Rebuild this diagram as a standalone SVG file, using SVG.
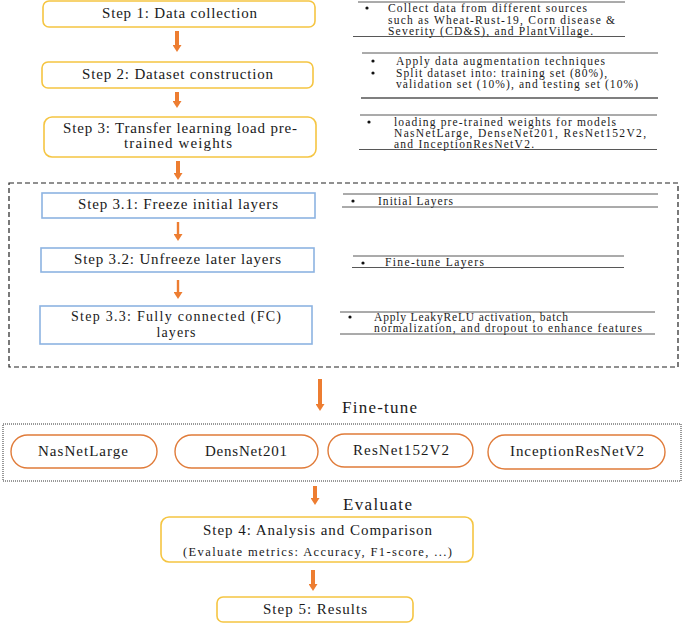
<svg xmlns="http://www.w3.org/2000/svg" width="685" height="623" viewBox="0 0 685 623">
<style>
text{font-family:"Liberation Serif","Times New Roman",serif;fill:#1a1a1a}
.st{font-size:15px;text-anchor:middle}
.st2{font-size:14px}
.sub{font-size:12.5px}
.an{font-size:11.5px}
.el{font-size:15px;text-anchor:middle}
.lbl{font-size:17px}
.ybox{fill:#fff;stroke:#F5C542;stroke-width:1.6}
.bbox{fill:#fff;stroke:#8DB3E2;stroke-width:1.6}
.ell{fill:#fff;stroke:#E07B39;stroke-width:1.4}
.rule{stroke:#444;stroke-width:0.9}
.dot{fill:#111}
.arr{stroke:#ED7D31;stroke-width:4;fill:none;marker-end:url(#ah)}
.arr2{stroke:#ED7D31;stroke-width:2.4;fill:none;marker-end:url(#ah)}
</style>
<defs>
<marker id="ah" markerUnits="userSpaceOnUse" markerWidth="9" markerHeight="9" refX="1" refY="4.5" orient="auto"><path d="M0,0 L7,4.5 L0,9 z" fill="#ED7D31"/></marker>
</defs>
<rect width="685" height="623" fill="#fff"/>

<g id="connectors">
<line class="arr" x1="177" y1="31" x2="177" y2="46"/>
<line class="arr" x1="177" y1="92" x2="177" y2="102"/>
<line class="arr" x1="178" y1="161" x2="178" y2="174"/>
<line class="arr2" x1="178" y1="222" x2="178" y2="235"/>
<line class="arr2" x1="178" y1="280" x2="178" y2="293"/>
<line class="arr" x1="320" y1="379" x2="320" y2="405"/>
<line class="arr" x1="315" y1="486" x2="315" y2="499"/>
<line class="arr" x1="313" y1="570" x2="313" y2="585"/>
</g>

<g id="transfer-group">
<rect x="9" y="183" width="669" height="184" fill="none" stroke="#222" stroke-width="1.2" stroke-dasharray="5,3"/>
</g>
<g id="finetune-group">
<rect x="3" y="424" width="678" height="57" fill="none" stroke="#333" stroke-width="1" stroke-dasharray="1,1"/>
</g>

<g id="step1">
<rect class="ybox" x="43" y="1" width="272" height="26" rx="6"/>
<text class="st" x="179.5" y="18" textLength="155" lengthAdjust="spacing">Step 1: Data collection</text>
</g>
<g id="step2">
<rect class="ybox" x="42" y="62" width="271" height="26" rx="6"/>
<text class="st" x="177.5" y="79" textLength="191" lengthAdjust="spacing">Step 2: Dataset construction</text>
</g>
<g id="step3">
<rect class="ybox" x="44" y="117" width="272" height="40" rx="8"/>
<text class="st" x="180" y="133" textLength="234" lengthAdjust="spacing">Step 3: Transfer learning load pre-</text>
<text class="st" x="178" y="148" textLength="108" lengthAdjust="spacing">trained weights</text>
</g>
<g id="step31">
<rect class="bbox" x="42" y="193" width="273" height="25"/>
<text class="st" x="178" y="209" textLength="200" lengthAdjust="spacing">Step 3.1: Freeze initial layers</text>
</g>
<g id="step32">
<rect class="bbox" x="41" y="248" width="273" height="24"/>
<text class="st" x="177.5" y="264" textLength="207" lengthAdjust="spacing">Step 3.2: Unfreeze later layers</text>
</g>
<g id="step33">
<rect class="bbox" x="40" y="306" width="272" height="38"/>
<text class="st st2" x="176" y="321" textLength="210" lengthAdjust="spacing">Step 3.3: Fully connected (FC)</text>
<text class="st st2" x="176" y="337" textLength="39" lengthAdjust="spacing">layers</text>
</g>

<g id="note1">
<line class="rule" x1="358" y1="2" x2="625" y2="2"/>
<circle class="dot" cx="367" cy="8" r="1.6"/>
<text class="an" x="388" y="12" textLength="199" lengthAdjust="spacing">Collect data from different sources</text>
<text class="an" x="388" y="24" textLength="227" lengthAdjust="spacing">such as Wheat-Rust-19, Corn disease &amp;</text>
<text class="an" x="388" y="35" textLength="205" lengthAdjust="spacing">Severity (CD&amp;S), and PlantVillage.</text>
<line class="rule" x1="353" y1="36.5" x2="625" y2="36.5"/>
</g>
<g id="note2">
<line class="rule" x1="362" y1="53" x2="658" y2="53"/>
<circle class="dot" cx="373" cy="61" r="1.6"/>
<text class="an" x="396" y="65" textLength="209" lengthAdjust="spacing">Apply data augmentation techniques</text>
<circle class="dot" cx="373" cy="73" r="1.6"/>
<text class="an" x="396" y="77" textLength="211" lengthAdjust="spacing">Split dataset into: training set (80%),</text>
<text class="an" x="396" y="88" textLength="242" lengthAdjust="spacing">validation set (10%), and testing set (10%)</text>
<line x1="361" y1="98" x2="658" y2="98" stroke="#555" stroke-width="1.4"/>
</g>
<g id="note3">
<line class="rule" x1="360" y1="115" x2="657" y2="115"/>
<circle class="dot" cx="369" cy="122" r="1.6"/>
<text class="an" x="394" y="126" textLength="222" lengthAdjust="spacing">loading pre-trained weights for models</text>
<text class="an" x="394" y="137" textLength="252" lengthAdjust="spacing">NasNetLarge, DenseNet201, ResNet152V2,</text>
<text class="an" x="394" y="148" textLength="140" lengthAdjust="spacing">and InceptionResNetV2.</text>
<line class="rule" x1="359" y1="149.5" x2="657" y2="149.5"/>
</g>
<g id="note31">
<line class="rule" x1="343" y1="194" x2="658" y2="194"/>
<circle class="dot" cx="353" cy="201" r="1.6"/>
<text class="an" x="378" y="205" textLength="75" lengthAdjust="spacing">Initial Layers</text>
<line class="rule" x1="342" y1="207" x2="658" y2="207"/>
</g>
<g id="note32">
<line class="rule" x1="353" y1="256" x2="624" y2="256"/>
<circle class="dot" cx="363" cy="263" r="1.6"/>
<text class="an" x="385" y="266" textLength="99" lengthAdjust="spacing">Fine-tune Layers</text>
<line class="rule" x1="352" y1="267.5" x2="624" y2="267.5"/>
</g>
<g id="note33">
<line class="rule" x1="340" y1="312" x2="655" y2="312"/>
<circle class="dot" cx="350" cy="317" r="1.6"/>
<text class="an" x="374" y="321" textLength="194" lengthAdjust="spacing">Apply LeakyReLU activation, batch</text>
<text class="an" x="374" y="332" textLength="268" lengthAdjust="spacing">normalization, and dropout to enhance features</text>
<line class="rule" x1="340" y1="334" x2="655" y2="334"/>
</g>

<g id="label-finetune">
<text class="lbl" x="342" y="413" textLength="75" lengthAdjust="spacing">Fine-tune</text>
</g>
<g id="m-nasnet">
<rect class="ell" x="11" y="435" width="146" height="33" rx="16.5"/>
<text class="el" x="83" y="456" textLength="90" lengthAdjust="spacing">NasNetLarge</text>
</g>
<g id="m-densnet">
<rect class="ell" x="175" y="435" width="143" height="33" rx="16.5"/>
<text class="el" x="246" y="456" textLength="82" lengthAdjust="spacing">DensNet201</text>
</g>
<g id="m-resnet">
<rect class="ell" x="328" y="434" width="145" height="33" rx="16.5"/>
<text class="el" x="401" y="455" textLength="96" lengthAdjust="spacing">ResNet152V2</text>
</g>
<g id="m-inception">
<rect class="ell" x="488" y="435" width="177" height="34" rx="17"/>
<text class="el" x="577" y="456" textLength="134" lengthAdjust="spacing">InceptionResNetV2</text>
</g>

<g id="label-evaluate">
<text class="lbl" x="343" y="510" textLength="69" lengthAdjust="spacing">Evaluate</text>
</g>
<g id="step4">
<rect class="ybox" x="161" y="517" width="312" height="45" rx="8"/>
<text class="st" x="317.5" y="535" textLength="229" lengthAdjust="spacing">Step 4: Analysis and Comparison</text>
<text class="st sub" x="317.5" y="556" textLength="269" lengthAdjust="spacing">(Evaluate metrics: Accuracy, F1-score, ...)</text>
</g>
<g id="step5">
<rect class="ybox" x="217" y="597" width="196" height="25" rx="6"/>
<text class="st" x="315" y="614" textLength="104" lengthAdjust="spacing">Step 5: Results</text>
</g>
</svg>
